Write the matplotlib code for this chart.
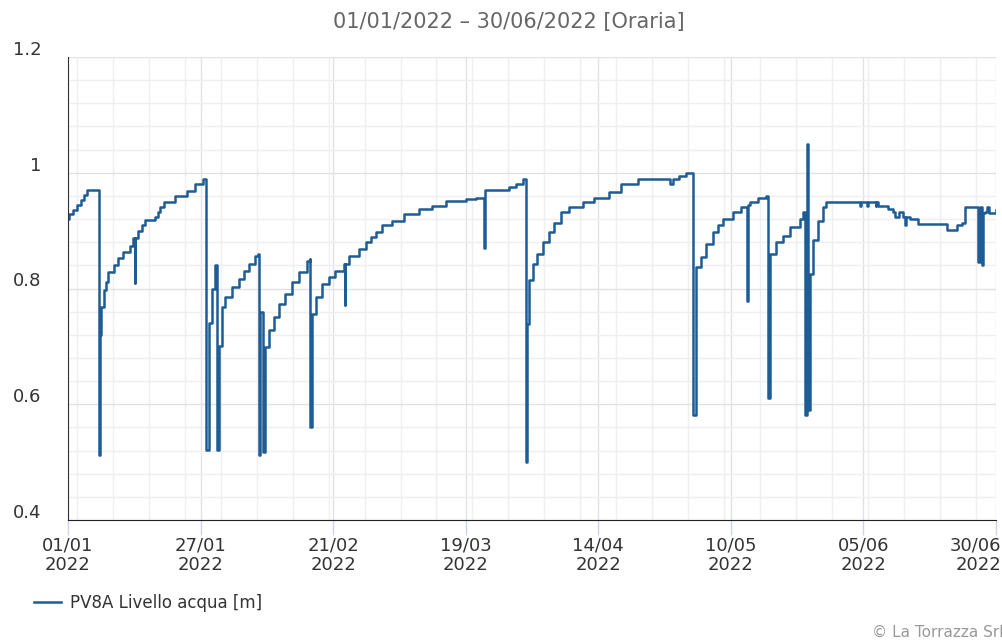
import numpy as np
import pandas as pd
import matplotlib
matplotlib.use("Agg")
import matplotlib.pyplot as plt
import matplotlib.dates as mdates
import matplotlib.transforms as mtransforms
from matplotlib.ticker import MultipleLocator, FuncFormatter

# hourly water level PV8A, key points (month-day hour)
times = ["01-01 06", "01-01 13", "01-02 07", "01-03 02", "01-03 21", "01-04 11", "01-04 22",
         "01-07 08", "01-07 11", "01-07 14", "01-08 04", "01-08 14", "01-09 03", "01-10 03",
         "01-11 02", "01-12 01", "01-13 09", "01-14 00", "01-14 05", "01-14 07", "01-14 23",
         "01-15 14", "01-16 07", "01-18 06", "01-18 18", "01-19 06", "01-19 21", "01-22 03",
         "01-24 10", "01-26 01", "01-27 11", "01-28 05", "01-28 15", "01-29 05", "01-29 22",
         "01-30 05", "01-30 14", "01-31 06", "01-31 22", "02-02 04", "02-03 12", "02-04 11",
         "02-05 11", "02-06 18", "02-07 05", "02-07 09", "02-07 16", "02-08 06", "02-08 17",
         "02-09 08", "02-10 08", "02-11 07", "02-12 14", "02-13 21", "02-15 05", "02-16 19",
         "02-17 07", "02-17 11", "02-17 19", "02-18 11", "02-19 18", "02-21 01", "02-22 08",
         "02-23 23", "02-24 04", "02-24 06", "02-24 23", "02-26 21", "02-28 05", "03-01 04",
         "03-02 04", "03-03 11", "03-05 09", "03-07 16", "03-10 14", "03-13 05", "03-15 19",
         "03-19 17", "03-21 16", "03-23 07", "03-23 09", "03-28 04", "03-29 11", "03-30 21",
         "03-31 10", "03-31 17", "04-01 01", "04-01 17", "04-02 16", "04-03 16", "04-04 23",
         "04-05 22", "04-07 06", "04-08 20", "04-11 11", "04-13 18", "04-16 16", "04-18 23",
         "04-22 04", "04-28 13", "04-29 00", "04-30 07", "05-01 16", "05-03 01", "05-03 14",
         "05-04 10", "05-05 12", "05-06 19", "05-07 19", "05-08 18", "05-10 17", "05-12 08",
         "05-13 12", "05-13 14", "05-13 23", "05-15 14", "05-17 05", "05-17 13", "05-17 21",
         "05-19 04", "05-20 11", "05-21 18", "05-23 17", "05-24 09", "05-24 17", "05-25 05",
         "05-25 08", "05-25 16", "05-26 07", "05-27 07", "05-28 06", "05-28 22", "06-04 10",
         "06-04 14", "06-05 20", "06-06 02", "06-07 12", "06-07 16", "06-08 00", "06-09 23",
         "06-10 22", "06-11 06", "06-12 00", "06-12 20", "06-13 08", "06-13 12", "06-14 04",
         "06-15 19", "06-21 08", "06-23 07", "06-24 06", "06-24 22", "06-27 12", "06-27 20",
         "06-28 05", "06-28 10", "06-28 19", "06-29 06", "06-29 12", "06-30 23"]
livello = [0.920, 0.928, 0.936, 0.944, 0.953, 0.962, 0.970,
           0.512, 0.720, 0.768, 0.797, 0.812, 0.828, 0.840,
           0.852, 0.863, 0.874, 0.888, 0.809, 0.888, 0.900,
           0.909, 0.918, 0.924, 0.932, 0.940, 0.949, 0.960,
           0.969, 0.980, 0.989, 0.521, 0.740, 0.800, 0.840,
           0.521, 0.700, 0.768, 0.785, 0.802, 0.817, 0.831,
           0.843, 0.857, 0.860, 0.512, 0.759, 0.518, 0.699,
           0.728, 0.751, 0.774, 0.791, 0.811, 0.828, 0.848,
           0.851, 0.561, 0.756, 0.785, 0.808, 0.820, 0.831,
           0.843, 0.771, 0.843, 0.857, 0.868, 0.880, 0.889,
           0.897, 0.909, 0.917, 0.929, 0.937, 0.943, 0.952,
           0.955, 0.957, 0.870, 0.970, 0.975, 0.980, 0.989,
           0.500, 0.739, 0.814, 0.843, 0.860, 0.880, 0.897,
           0.914, 0.932, 0.940, 0.949, 0.957, 0.966, 0.980,
           0.989, 0.980, 0.989, 0.995, 1.000, 0.581, 0.837,
           0.854, 0.877, 0.897, 0.909, 0.920, 0.932, 0.941,
           0.779, 0.945, 0.949, 0.957, 0.960, 0.610, 0.860,
           0.880, 0.891, 0.906, 0.920, 0.932, 0.581, 1.049,
           0.590, 0.825, 0.883, 0.917, 0.940, 0.949, 0.943,
           0.949, 0.943, 0.949, 0.943, 0.949, 0.943, 0.937,
           0.932, 0.923, 0.932, 0.923, 0.909, 0.923, 0.920,
           0.912, 0.901, 0.909, 0.914, 0.940, 0.845, 0.940,
           0.840, 0.930, 0.932, 0.940, 0.930, 0.935]

x_start = "2022-01-01 06:00"
x_end = "2022-06-30 23:00"
y_ticks = [0.4, 0.6, 0.8, 1.0, 1.2]
titolo = "01/01/2022 \u2013 30/06/2022 [Oraria]"
serie = "PV8A Livello acqua [m]"
credito = "\u00a9 La Torrazza Srl"

dt = pd.to_datetime(["2022-" + t for t in times], format="%Y-%m-%d %H")
t0, t1 = pd.Timestamp(x_start), pd.Timestamp(x_end)

fig = plt.figure(figsize=(10.03, 6.40), dpi=100)
ax = fig.add_axes([68 / 1003, 120 / 640, 928 / 1003, 463 / 640])

line, = ax.plot(dt, livello, drawstyle="steps-post", color="#1d5c94", lw=1.8, label=serie)

ax.set_xlim(t0, t1)
ax.set_ylim(0.4, 1.2)

# x ticks: 8 evenly spaced positions, weekly minor grid
ax.set_xticks(pd.date_range(t0, t1, periods=8))
ax.xaxis.set_major_formatter(mdates.DateFormatter("%d/%m\n%Y"))
ax.xaxis.set_minor_locator(mdates.WeekdayLocator(byweekday=mdates.MO))
ax.set_yticks(y_ticks)
ax.yaxis.set_major_formatter(FuncFormatter(lambda v, p: f"{v:g}"))
ax.yaxis.set_minor_locator(MultipleLocator(0.04))

ax.grid(which="major", color="#e2e2e2", lw=1)
ax.grid(which="minor", color="#efefef", lw=1)
ax.set_axisbelow(True)

ax.tick_params(axis="x", which="major", length=11, width=1, color="#ccd6eb",
               pad=1, labelsize=13, labelcolor="#333333")
ax.tick_params(axis="x", which="minor", length=0)
ax.tick_params(axis="y", which="both", length=0, pad=19, labelsize=13, labelcolor="#333333")

xlabs = ax.get_xticklabels()
for lab in xlabs:
    lab.set_linespacing(1.1)
# last label pulled inside the figure, as in the original
xlabs[-1].set_horizontalalignment("right")
xlabs[-1].set_transform(xlabs[-1].get_transform() +
                        mtransforms.ScaledTranslation(0.05, 0, fig.dpi_scale_trans))
up = mtransforms.ScaledTranslation(0, 0.09, fig.dpi_scale_trans)
for lab in ax.get_yticklabels():
    lab.set_transform(lab.get_transform() + up)

for s in ["top", "right"]:
    ax.spines[s].set_visible(False)
ax.spines["left"].set_color("#333333")
ax.spines["bottom"].set_color("#222222")

fig.text(0.507, 1 - 22 / 640, titolo, ha="center", va="center", fontsize=15, color="#666666")
fig.legend(handles=[line], loc="center left", bbox_to_anchor=(0.034, 1 - 603 / 640),
           frameon=False, fontsize=12, handlelength=1.6, handletextpad=0.55,
           borderpad=0, borderaxespad=0, labelcolor="#333333")
fig.text(0.869, 1 - 632 / 640, credito, ha="left", va="center", fontsize=11, color="#999999")

fig.savefig("out.png", dpi=100)
